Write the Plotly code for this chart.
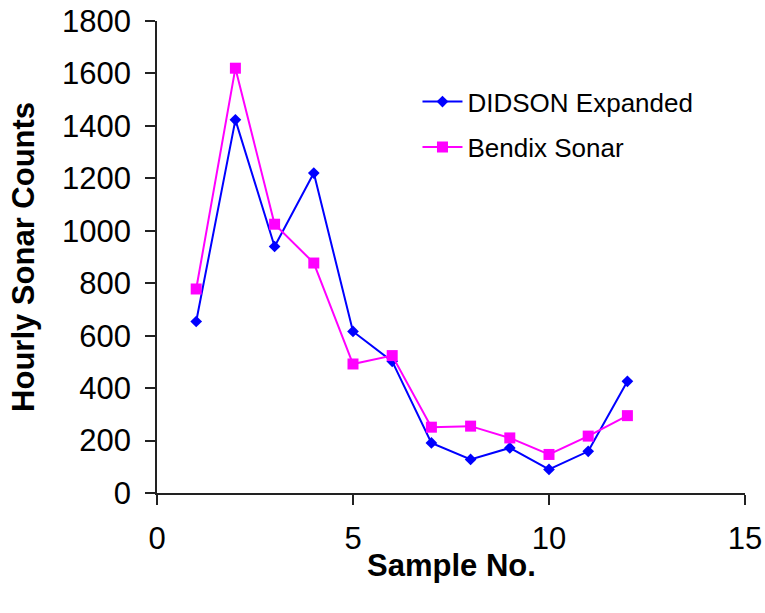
import plotly.graph_objects as go

samples = [1, 2, 3, 4, 5, 6, 7, 8, 9, 10, 11, 12]
didson = [654, 1423, 940, 1220, 616, 502, 191, 128, 172, 90, 159, 426]
bendix = [778, 1620, 1025, 877, 492, 524, 251, 255, 210, 147, 217, 295]

FONT = "Liberation Sans, Arial, sans-serif"

fig = go.Figure()
fig.add_trace(go.Scatter(
    x=samples, y=didson, mode="lines+markers", name="DIDSON Expanded",
    line=dict(color="#0000FF", width=2),
    marker=dict(symbol="diamond", size=9, color="#0000FF"),
    legend="legend",
))
fig.add_trace(go.Scatter(
    x=samples, y=bendix, mode="lines+markers", name="Bendix Sonar",
    line=dict(color="#FF00FF", width=2),
    marker=dict(symbol="square", size=11, color="#FF00FF"),
    legend="legend2",
))

leg_common = dict(xanchor="left", yanchor="middle",
                  font=dict(size=26, family=FONT), bgcolor="rgba(0,0,0,0)",
                  itemwidth=40)

fig.update_layout(
    width=765, height=613,
    margin=dict(l=157, r=20, t=21, b=120, autoexpand=False),
    paper_bgcolor="white", plot_bgcolor="white",
    font=dict(family=FONT, color="black", size=31),
    showlegend=True,
    legend=dict(x=0.443, y=0.829, **leg_common),
    legend2=dict(x=0.443, y=0.733, **leg_common),
    xaxis=dict(range=[0, 15], dtick=5, tick0=0, ticks="outside", ticklen=10,
               tickwidth=1.5, tickcolor="#222", showline=True, linecolor="#222",
               linewidth=1.5, showgrid=False, zeroline=False, automargin=False,
               tickfont=dict(size=31), ticklabelstandoff=7),
    yaxis=dict(range=[0, 1800], dtick=200, tick0=0, ticks="outside", ticklen=10,
               tickwidth=1.5, tickcolor="#222", showline=True, linecolor="#222",
               linewidth=1.5, showgrid=False, zeroline=False, automargin=False,
               tickfont=dict(size=31), ticklabelstandoff=8),
    annotations=[
        dict(text="<b>Sample No.</b>", xref="paper", yref="paper",
             x=0.5, y=-0.153, xanchor="center", yanchor="middle",
             showarrow=False, font=dict(size=31)),
        dict(text="<b>Hourly Sonar Counts</b>", xref="paper", yref="paper",
             x=-0.228, y=0.5, xanchor="center", yanchor="middle", textangle=-90,
             showarrow=False, font=dict(size=31)),
    ],
)

fig.write_html("out.html", config={"displayModeBar": False},
               post_script="document.body.style.margin='0';")
